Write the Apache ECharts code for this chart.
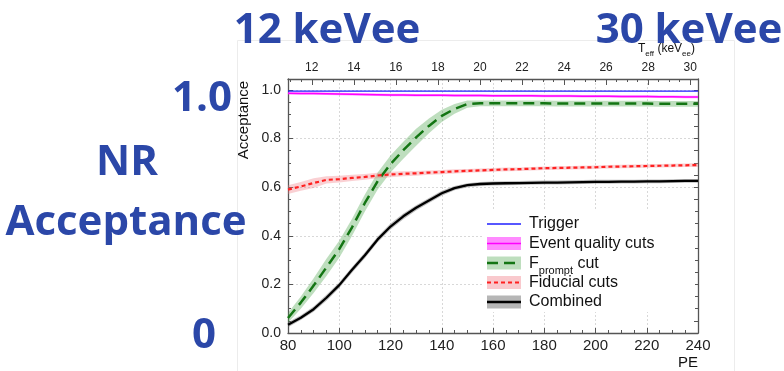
<!DOCTYPE html>
<html><head><meta charset="utf-8">
<script src="https://cdn.jsdelivr.net/npm/echarts@6/dist/echarts.min.js"></script>
<style>html,body{margin:0;padding:0;background:#fff}#c{width:784px;height:371px}</style>
</head><body><div id="c"></div>
<script>
// ---- data ----
const PE = [80,85,90,95,100,105,110,115,120,125,130,135,140,145,150,155,160,165,170,175,180,185,190,195,200,205,210,215,220,225,230,235,240];
const trigger = [0.995,0.995,0.995,0.995,0.995,0.995,0.995,0.995,0.995,0.995,0.995,0.995,0.995,0.995,0.995,0.995,0.995,0.995,0.995,0.995,0.995,0.995,0.995,0.995,0.995,0.995,0.995,0.995,0.995,0.995,0.995,0.995,0.995];
const quality = [0.986,0.985,0.985,0.984,0.983,0.982,0.981,0.980,0.979,0.979,0.978,0.978,0.978,0.977,0.977,0.977,0.976,0.976,0.976,0.976,0.975,0.975,0.975,0.974,0.974,0.974,0.973,0.973,0.973,0.972,0.972,0.971,0.971];
const qualityErr = [0.005,0.005,0.005,0.005,0.005,0.005,0.005,0.005,0.005,0.005,0.005,0.005,0.005,0.005,0.005,0.005,0.005,0.005,0.005,0.005,0.005,0.005,0.005,0.005,0.005,0.005,0.005,0.005,0.005,0.005,0.005,0.005,0.005];
const fprompt = [0.062,0.125,0.195,0.270,0.345,0.435,0.535,0.625,0.695,0.752,0.805,0.852,0.893,0.922,0.942,0.945,0.945,0.945,0.945,0.945,0.945,0.944,0.944,0.944,0.944,0.944,0.944,0.944,0.944,0.943,0.943,0.943,0.943];
const fpromptErr = [0.020,0.025,0.030,0.035,0.035,0.035,0.035,0.035,0.035,0.035,0.035,0.030,0.025,0.020,0.015,0.012,0.012,0.012,0.012,0.012,0.012,0.012,0.012,0.012,0.012,0.012,0.012,0.012,0.012,0.012,0.012,0.012,0.012];
const fiducial = [0.590,0.603,0.617,0.630,0.633,0.638,0.642,0.648,0.652,0.655,0.657,0.660,0.662,0.665,0.667,0.669,0.671,0.673,0.674,0.676,0.678,0.679,0.680,0.681,0.682,0.684,0.685,0.686,0.687,0.688,0.689,0.690,0.691];
const fiducialErr = [0.018,0.018,0.020,0.015,0.014,0.013,0.012,0.011,0.011,0.010,0.010,0.009,0.009,0.009,0.008,0.008,0.008,0.008,0.007,0.007,0.007,0.007,0.007,0.007,0.007,0.007,0.007,0.007,0.007,0.007,0.007,0.007,0.008];
const combined = [0.034,0.063,0.098,0.145,0.197,0.260,0.320,0.385,0.438,0.480,0.515,0.545,0.575,0.596,0.608,0.613,0.615,0.616,0.617,0.618,0.619,0.619,0.620,0.621,0.622,0.622,0.623,0.623,0.624,0.624,0.625,0.626,0.626];
const combinedErr = [0.010,0.010,0.011,0.012,0.012,0.012,0.012,0.012,0.012,0.012,0.011,0.010,0.010,0.009,0.008,0.008,0.008,0.008,0.008,0.008,0.008,0.008,0.008,0.008,0.008,0.008,0.008,0.008,0.008,0.008,0.008,0.008,0.008];
const yLabels = [0.0,0.2,0.4,0.6,0.8,1.0];
const yMinor = [0,0.05,0.1,0.15,0.2,0.25,0.3,0.35,0.4,0.45,0.5,0.55,0.6,0.65,0.7,0.75,0.8,0.85,0.9,0.95,1.0];
const keVeeLabels = [12,14,16,18,20,22,24,26,28,30];
const keVeeMinor = [11,11.5,12,12.5,13,13.5,14,14.5,15,15.5,16,16.5,17,17.5,18,18.5,19,19.5,20,20.5,21,21.5,22,22.5,23,23.5,24,24.5,25,25.5,26,26.5,27,27.5,28,28.5,29,29.5,30];
const legendNames = ['Trigger','Event quality cuts','F_prompt cut','Fiducial cuts','Combined'];

// ---- chart ----
const FONT = '"Liberation Sans", Arial, sans-serif';
const AX = '#555';
const chart = echarts.init(document.getElementById('c'), null, {renderer:'canvas'});
function pairs(v){ return PE.map((x,i)=>[x,v[i]]); }
function band(id, v, e, color){
  const data = PE.map((x,i)=>[x, v[i]-e[i], v[i]+e[i]]);
  return {type:'custom', name:id+'_band', xAxisIndex:0, yAxisIndex:0, silent:true, z:1,
    data:data, encode:{x:0, y:[1,2]}, clip:true,
    renderItem:function(params, api){
      if (params.dataIndex !== 0) return null;
      const up = [], lo = [];
      for (let i=0;i<data.length;i++){
        up.push(api.coord([data[i][0], data[i][2]]));
        lo.push(api.coord([data[i][0], data[i][1]]));
      }
      return {type:'polygon', shape:{points: up.concat(lo.reverse())}, style:{fill:color}};
    }};
}
function line(name, v, color, width, type){
  return {type:'line', name:name, xAxisIndex:0, yAxisIndex:0, symbol:'none', data:pairs(v),
    lineStyle:{color:color, width:width, type:type||'solid'}, z:3};
}
const series = [
  band('q', quality, qualityErr, 'rgba(255,80,255,0.55)'),
  band('f', fprompt, fpromptErr, 'rgba(70,160,70,0.35)'),
  band('d', fiducial, fiducialErr, 'rgba(240,120,130,0.35)'),
  band('c', combined, combinedErr, 'rgba(110,110,110,0.45)'),
  line(legendNames[0], trigger, '#1f1fff', 1.3),
  line(legendNames[1], quality, '#ff00ff', 1.5),
  line(legendNames[2], fprompt, '#137513', 2.5, [11,6]),
  line(legendNames[3], fiducial, '#ff2020', 2.2, [4,3]),
  line(legendNames[4], combined, '#000000', 2.3)
];

const lx0 = 487, lx1 = 521, ltx = 529;
const rows = [224, 243.5, 263, 282.5, 302];
const txt = (t, y) => ({type:'text', x:ltx, y:y, z:110, style:{text:t, font:'16px '+FONT, fill:'#111', align:'left', verticalAlign:'middle'}});
const big = (t, cx, cy) => ({type:'text', x:cx, y:cy, z:120, style:{text:t, font:'bold 42px "Open Sans", sans-serif', fill:'#2B47A8', align:'center', verticalAlign:'middle'}});
const graphic = [
  {type:'rect', shape:{x:237.5, y:40.5, width:497, height:340}, style:{fill:'none', stroke:'#ececec', lineWidth:1}, z:0},
  // legend
  {type:'rect', shape:{x:483, y:211, width:212, height:101}, style:{fill:'#fff'}, z:100},
  {type:'line', shape:{x1:lx0,y1:rows[0],x2:lx1,y2:rows[0]}, style:{stroke:'#1f1fff', lineWidth:1.3}, z:105},
  {type:'rect', shape:{x:lx0,y:rows[1]-6.5,width:lx1-lx0,height:13}, style:{fill:'rgba(255,60,255,0.6)'}, z:104},
  {type:'line', shape:{x1:lx0,y1:rows[1],x2:lx1,y2:rows[1]}, style:{stroke:'#ff00ff', lineWidth:1.5}, z:105},
  {type:'rect', shape:{x:lx0,y:rows[2]-6.5,width:lx1-lx0,height:13}, style:{fill:'rgba(70,160,70,0.35)'}, z:104},
  {type:'line', shape:{x1:lx0,y1:rows[2],x2:lx1,y2:rows[2]}, style:{stroke:'#137513', lineWidth:2.5, lineDash:[11,6]}, z:105},
  {type:'rect', shape:{x:lx0,y:rows[3]-6.5,width:lx1-lx0,height:13}, style:{fill:'rgba(240,120,130,0.4)'}, z:104},
  {type:'line', shape:{x1:lx0,y1:rows[3],x2:lx1,y2:rows[3]}, style:{stroke:'#ff2020', lineWidth:2.2, lineDash:[4,3]}, z:105},
  {type:'rect', shape:{x:lx0,y:rows[4]-6.5,width:lx1-lx0,height:13}, style:{fill:'rgba(110,110,110,0.5)'}, z:104},
  {type:'line', shape:{x1:lx0,y1:rows[4],x2:lx1,y2:rows[4]}, style:{stroke:'#000', lineWidth:2.3}, z:105},
  txt(legendNames[0], rows[0]),
  txt(legendNames[1], rows[1]),
  {type:'text', x:ltx, y:rows[2]+1, z:110, style:{text:'F{s|prompt} cut', font:'16px '+FONT, fill:'#111', align:'left', verticalAlign:'middle',
     rich:{s:{font:'11px '+FONT, fill:'#111', verticalAlign:'bottom', lineHeight:12}}, lineHeight:24}},
  txt(legendNames[3], rows[3]),
  txt(legendNames[4], rows[4]),
  // axis titles
  {type:'text', x:244, y:120, rotation:Math.PI/2, z:110, style:{text:'Acceptance', font:'15px '+FONT, fill:'#111', align:'center', verticalAlign:'middle'}},
  {type:'text', x:688, y:363, z:110, style:{text:'PE', font:'15px '+FONT, fill:'#111', align:'center', verticalAlign:'middle'}},
  {type:'text', x:638, y:49, z:110, style:{text:'T{s|eff} (keV{s|ee})', font:'12px '+FONT, fill:'#111', align:'left', verticalAlign:'middle', lineHeight:18,
     rich:{s:{font:'8px '+FONT, fill:'#111', verticalAlign:'bottom', lineHeight:8}}}},
  // slide annotations
  big('12 keVee', 327, 31),
  big('30 keVee', 689, 31),
  big('1.0', 202, 99),
  big('NR', 127, 163),
  big('Acceptance', 126, 223),
  big('0', 204, 336)
];

const tickLbl = {fontFamily:FONT, color:'#222'};
const option = {
  animation:false,
  backgroundColor:'#fff',
  grid:{left:288, right:86, top:79, bottom:38, containLabel:false},
  xAxis:[
    {type:'value', position:'bottom', min:80, max:240, interval:20,
     axisLine:{show:true, onZero:false, lineStyle:{color:AX, width:1.3}},
     axisTick:{show:true, inside:true, length:5, lineStyle:{color:AX}},
     minorTick:{show:true, splitNumber:4, length:3, lineStyle:{color:AX}},
     axisLabel:Object.assign({fontSize:15, margin:5}, tickLbl),
     splitLine:{show:true, lineStyle:{color:'#d8d8d8', type:[2,2], width:1}}},
    {type:'value', position:'top', min:10.87, max:30.37,
     axisLine:{show:true, onZero:false, lineStyle:{color:AX, width:1.3}},
     axisTick:{show:true, inside:true, length:6, customValues:keVeeLabels, lineStyle:{color:AX}},
     axisLabel:Object.assign({fontSize:12, margin:5, customValues:keVeeLabels}, tickLbl),
     splitLine:{show:false}},
    {type:'value', position:'top', min:10.87, max:30.37,
     axisLine:{show:false, onZero:false},
     axisTick:{show:true, inside:true, length:3, customValues:keVeeMinor, lineStyle:{color:AX}},
     axisLabel:{show:false},
     splitLine:{show:false}}
  ],
  yAxis:[
    {type:'value', position:'left', min:0, max:1.045,
     axisLine:{show:true, onZero:false, lineStyle:{color:AX, width:1.3}},
     axisTick:{show:true, inside:true, length:5, customValues:yLabels, lineStyle:{color:AX}},
     axisLabel:Object.assign({fontSize:14, margin:7, customValues:yLabels, formatter:v=>Number(v).toFixed(1)}, tickLbl),
     splitLine:{show:true, lineStyle:{color:'#d8d8d8', type:[2,2], width:1}}},
    {type:'value', position:'left', min:0, max:1.045,
     axisLine:{show:false, onZero:false},
     axisTick:{show:true, inside:true, length:3, customValues:yMinor, lineStyle:{color:AX}},
     axisLabel:{show:false},
     splitLine:{show:false}},
    {type:'value', position:'right', min:0, max:1.045,
     axisLine:{show:true, onZero:false, lineStyle:{color:AX, width:1.3}},
     axisTick:{show:true, inside:true, length:4, customValues:yMinor, lineStyle:{color:AX}},
     axisLabel:{show:false},
     splitLine:{show:false}}
  ],
  series: series,
  graphic: graphic
};
chart.setOption(option);
</script>
</body></html>
